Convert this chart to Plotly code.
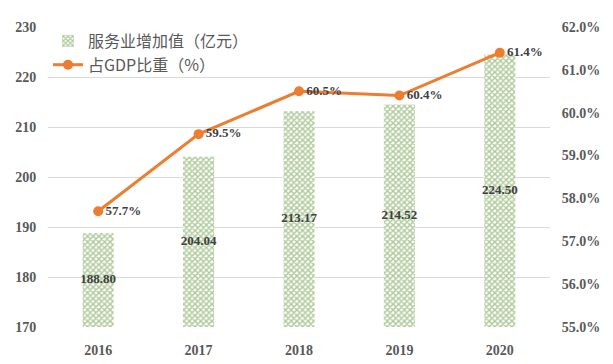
import plotly.graph_objects as go

years = ["2016", "2017", "2018", "2019", "2020"]
service_value = [188.80, 204.04, 213.17, 214.52, 224.50]
gdp_share = [57.7, 59.5, 60.5, 60.4, 61.4]
bar_labels = ["188.80", "204.04", "213.17", "214.52", "224.50"]
share_labels = ["57.7%", "59.5%", "60.5%", "60.4%", "61.4%"]
y_min, y_max = 170, 230

fig = go.Figure()
fig.add_trace(go.Bar(
    x=years, y=service_value, name="服务业增加值（亿元）",
    marker=dict(color="white", line=dict(width=0),
                pattern=dict(shape="x", fgcolor="#5E9433", bgcolor="white", size=4, solidity=0.6)),
    width=0.31, yaxis="y",
))
# bar value labels, centred in the visible part of each bar
fig.add_trace(go.Scatter(
    x=years, y=[(y_min + v) / 2 for v in service_value], mode="text",
    text=bar_labels, textposition="middle center", showlegend=False, yaxis="y",
    textfont=dict(family="Liberation Serif", size=13, color="#404040", weight="bold"),
    hoverinfo="skip",
))
fig.add_trace(go.Scatter(
    x=years, y=gdp_share, name="占GDP比重（%）", yaxis="y2",
    mode="lines+markers+text", text=share_labels, textposition="middle right",
    textfont=dict(family="Liberation Serif", size=13, color="#404040", weight="bold"),
    line=dict(color="#ED7D31", width=3), marker=dict(color="#ED7D31", size=10),
    cliponaxis=False,
))

tick_font = dict(family="Liberation Serif", size=14, color="#595959", weight="bold")

fig.update_layout(
    width=605, height=356,
    margin=dict(l=40, r=63, t=19, b=37, autoexpand=False),
    plot_bgcolor="white", paper_bgcolor="white",
    showlegend=True,
    legend=dict(x=0.0, y=1.01, xanchor="left", yanchor="top",
                bgcolor="rgba(0,0,0,0)",
                font=dict(family="Noto Sans CJK SC", size=16, color="#595959"),
                tracegroupgap=0, itemwidth=30),
    xaxis=dict(tickfont=tick_font, showgrid=False, showline=False,
               ticks="outside", ticklen=10, tickcolor="rgba(0,0,0,0)",
               automargin=False),
    yaxis=dict(range=[y_min, y_max], dtick=10, showgrid=True, gridcolor="#D9D9D9",
               zeroline=False, showline=False, ticks="outside", ticklen=8, tickcolor="rgba(0,0,0,0)",
               tickfont=tick_font, automargin=False),
    yaxis2=dict(range=[55, 62], dtick=1, overlaying="y", side="right",
                showgrid=False, zeroline=False, showline=False,
                ticksuffix="%", tickformat=".1f", ticks="outside", ticklen=8, tickcolor="rgba(0,0,0,0)",
                tickfont=tick_font, automargin=False),
)
fig.write_html("out.html")
